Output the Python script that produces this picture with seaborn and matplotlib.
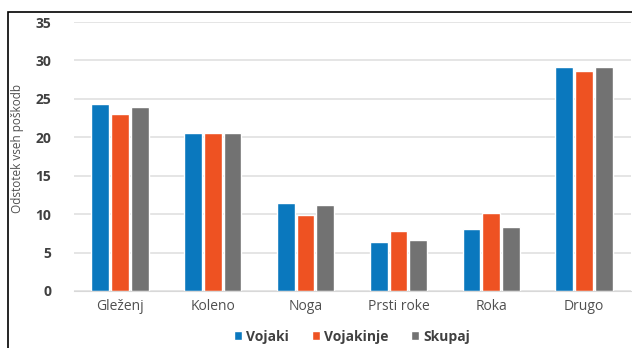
import matplotlib
matplotlib.use("Agg")
import matplotlib.pyplot as plt
import seaborn as sns
import pandas as pd
from matplotlib.patches import Rectangle

categories = ["Gleženj", "Koleno", "Noga", "Prsti roke", "Roka", "Drugo"]
series = ["Vojaki", "Vojakinje", "Skupaj"]
vojaki = [24.3, 20.6, 11.4, 6.4, 8.1, 29.2]
vojakinje = [23.0, 20.5, 9.9, 7.8, 10.2, 28.6]
skupaj = [24.0, 20.5, 11.2, 6.7, 8.3, 29.1]
yticks = [0, 5, 10, 15, 20, 25, 30, 35]

df = pd.DataFrame({
    "cat": categories * 3,
    "series": [series[0]] * 6 + [series[1]] * 6 + [series[2]] * 6,
    "val": vojaki + vojakinje + skupaj,
})

sns.set_style("white")
plt.rcParams['font.family'] = ['Open Sans', 'DejaVu Sans']

fig = plt.figure(figsize=(6.32, 3.48), dpi=100)
ax = fig.add_axes([73.5 / 632, 1 - 291 / 348, (630.5 - 73.5) / 632, (291 - 22) / 348])

palette = ["#0A78BE", "#EE5222", "#727272"]
sns.barplot(data=df, x="cat", y="val", hue="series", palette=palette,
            width=0.64, gap=0.1, ax=ax, saturation=1, legend=True)

ax.set_ylim(0, 35)
ax.set_yticks(yticks)
ax.set_yticklabels([str(t) for t in yticks], fontsize=10, fontweight="bold", color="#404040")
ax.tick_params(axis="y", length=0, pad=16)
ax.tick_params(axis="x", length=0, pad=6, labelsize=10, labelcolor="#505050")
ax.yaxis.grid(True, color="#E0E0E0", lw=1.2)
ax.set_axisbelow(True)
for s in ["top", "right", "left"]:
    ax.spines[s].set_visible(False)
ax.spines["bottom"].set_color("#D8D8D8")
ax.set_xlabel("")
ax.set_ylabel("Odstotek vseh poškodb", fontsize=8.5, color="#505050")
ax.yaxis.set_label_coords((24 - 73.5) / 557, 0.53)

leg = ax.legend(loc="center", bbox_to_anchor=(0.5, -0.17), ncol=3, frameon=False,
                handlelength=0.6, handleheight=0.6, handletextpad=0.3, columnspacing=1.6,
                prop={"size": 10, "weight": "bold"})
for t in leg.get_texts():
    t.set_color("#404040")

fig.patches.append(Rectangle((8 / 632, -0.05), 1.2, 1 - 12 / 348 + 0.05, transform=fig.transFigure,
                             fill=False, edgecolor="black", lw=1.2, zorder=10))

fig.savefig("out.png", dpi=100)
